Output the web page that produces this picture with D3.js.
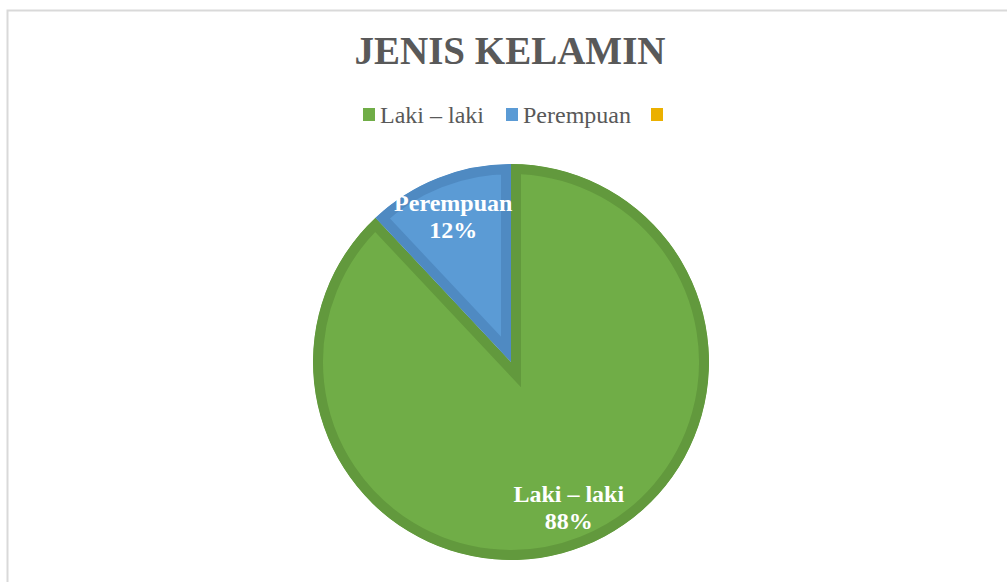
<!DOCTYPE html>
<html>
<head>
<meta charset="utf-8">
<script src="https://cdn.jsdelivr.net/npm/d3@7"></script>
<style>
  body { margin: 0; background: #fff; }
  text { font-family: "Liberation Serif", "Times New Roman", serif; }
</style>
</head>
<body>
<div id="chart"></div>
<script>
// data
var categories = ["Laki \u2013 laki", "Perempuan", ""];
var values = [88, 12, 0];
var fillColors = ["#70ad47", "#5b9bd5", "#ebb000"];
var edgeColors = ["#62993d", "#4f8ac2", "#d49f00"];
var title = "JENIS KELAMIN";

var width = 1007, height = 582;
var cx = 511, cy = 362, radius = 198, labelRadius = 157;

var svg = d3.select("#chart").append("svg")
    .attr("width", width)
    .attr("height", height);

// chart border (right and bottom sides fall outside the picture)
svg.append("rect")
    .attr("x", 7.5).attr("y", 10.5)
    .attr("width", 1010).attr("height", 600)
    .attr("fill", "none")
    .attr("stroke", "#d9d9d9")
    .attr("stroke-width", 2);

// title
svg.append("text")
    .attr("x", 510).attr("y", 64)
    .attr("text-anchor", "middle")
    .style("font-size", "39px")
    .style("font-weight", "bold")
    .style("fill", "#595959")
    .text(title);

// legend
var legendX = [363, 506, 651];
var legend = svg.append("g").selectAll("g")
    .data(categories)
  .enter().append("g")
    .attr("transform", function(d, i) { return "translate(" + legendX[i] + ",108)"; });

legend.append("rect")
    .attr("width", 12).attr("height", 13)
    .attr("fill", function(d, i) { return fillColors[i]; });

legend.append("text")
    .attr("x", 17).attr("y", 14.5)
    .style("font-size", "24px")
    .style("fill", "#595959")
    .text(function(d) { return d; });

// pie
var pie = d3.pie().sort(null).value(function(d) { return d; });
var arc = d3.arc().innerRadius(0).outerRadius(radius);
var labelArc = d3.arc().innerRadius(labelRadius).outerRadius(labelRadius);

var arcs = pie(values).filter(function(d) { return d.value > 0; });

var defs = svg.append("defs");
arcs.forEach(function(d) {
  defs.append("clipPath")
      .attr("id", "clip-" + d.index)
    .append("path")
      .attr("d", arc(d));
});

var g = svg.append("g").attr("transform", "translate(" + cx + "," + cy + ")");

// slices: fill + inner border (stroke clipped to the slice)
g.selectAll("path.slice")
    .data(arcs)
  .enter().append("path")
    .attr("class", "slice")
    .attr("d", arc)
    .attr("clip-path", function(d) { return "url(#clip-" + d.index + ")"; })
    .attr("fill", function(d) { return fillColors[d.index]; })
    .attr("stroke", function(d) { return edgeColors[d.index]; })
    .attr("stroke-width", 20)
    .attr("stroke-linejoin", "miter")
    .attr("stroke-miterlimit", 10);

// data labels
var labels = g.selectAll("text.label")
    .data(arcs)
  .enter().append("text")
    .attr("class", "label")
    .attr("text-anchor", "middle")
    .style("font-size", "24px")
    .style("font-weight", "bold")
    .style("fill", "#ffffff");

labels.append("tspan")
    .attr("x", function(d) { return labelArc.centroid(d)[0]; })
    .attr("y", function(d) { return labelArc.centroid(d)[1] - 5.5; })
    .text(function(d) { return categories[d.index]; });

labels.append("tspan")
    .attr("x", function(d) { return labelArc.centroid(d)[0]; })
    .attr("y", function(d) { return labelArc.centroid(d)[1] + 21.5; })
    .text(function(d) { return d.value + "%"; });
</script>
</body>
</html>
